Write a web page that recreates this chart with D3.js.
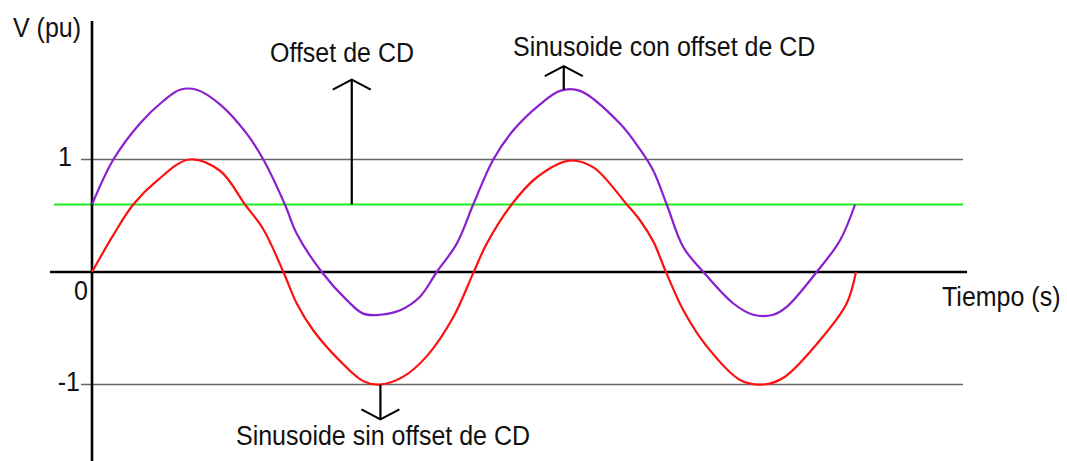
<!DOCTYPE html>
<html>
<head>
<meta charset="utf-8">
<script src="https://cdn.jsdelivr.net/npm/d3@7"></script>
<style>
  body { margin: 0; background: #fff; }
  text { font-family: 'Liberation Sans', Arial, sans-serif; fill: #111; }
</style>
</head>
<body>
<script>
  // tiempo en ms (50 Hz -> 2 ciclos = 40 ms), tension en pu
  const tiempoSin = [0, 1.12, 2.16, 3.39, 5.09, 6.70, 8.01, 8.97, 10.02, 10.72, 11.59, 12.98, 14.20, 15.08,
    16.30, 17.52, 18.92, 19.96, 20.66, 21.97, 23.28, 24.99, 26.25, 28.00, 28.69, 29.39, 30.05, 30.96,
    32.18, 33.93, 35.15, 36.20, 38.29, 39.51, 40.00];
  const voltSin = [0, 0.33, 0.60, 0.81, 1.00, 0.90, 0.60, 0.38, 0.00, -0.28, -0.52, -0.79, -0.97, -1.00,
    -0.93, -0.75, -0.40, -0.01, 0.25, 0.60, 0.84, 0.99, 0.93, 0.60, 0.46, 0.27, 0.00, -0.34,
    -0.66, -0.96, -1.00, -0.94, -0.57, -0.28, 0.00];

  const tiempoCon = [0, 1.12, 2.51, 3.73, 4.61, 5.48, 6.70, 8.10, 8.97, 10.10, 10.72, 12.03, 13.34, 14.20,
    15.08, 16.13, 17.17, 18.05, 19.09, 19.96, 21.01, 22.06, 23.46, 24.50, 25.55, 27.64, 28.69, 29.39,
    30.09, 30.96, 32.01, 33.58, 34.62, 35.67, 36.37, 37.94, 39.16, 39.95];
  const voltCon = [0.60, 1.00, 1.32, 1.52, 1.62, 1.62, 1.49, 1.23, 1.00, 0.60, 0.34, 0.00, -0.25, -0.37,
    -0.38, -0.34, -0.22, 0.00, 0.25, 0.60, 1.00, 1.26, 1.49, 1.61, 1.61, 1.32, 1.09, 0.90,
    0.60, 0.22, 0.00, -0.28, -0.38, -0.38, -0.31, 0.00, 0.28, 0.60];

  const offsetCD = 0.6;
  const yTicks = [1, 0, -1];
  const yTickLabels = ['1', '0', '-1'];

  // flechas de las anotaciones: [tiempo, tension de partida, tension de la punta]
  const flechas = [
    [13.6, 0.6, 1.71],
    [24.7, 1.62, 1.83],
    [15.1, -1.0, -1.31]
  ];

  const WIDTH = 1067;
  const HEIGHT = 461;

  const x = d3.scaleLinear().domain([0, 40]).range([92, 856]);
  const y = d3.scaleLinear().domain([-1, 1]).range([384.5, 159.5]);

  const svg = d3.select('body').append('svg')
    .attr('width', WIDTH)
    .attr('height', HEIGHT);

  // lineas de referencia +1 / -1
  svg.selectAll('line.ref')
    .data([1, -1])
    .enter()
    .append('line')
    .attr('x1', 81).attr('x2', 963)
    .attr('y1', d => y(d)).attr('y2', d => y(d))
    .attr('stroke', '#666').attr('stroke-width', 1.6);

  // offset de CD
  svg.append('line')
    .attr('x1', 54).attr('x2', 963)
    .attr('y1', y(offsetCD)).attr('y2', y(offsetCD))
    .attr('stroke', '#1bee1b').attr('stroke-width', 2.2);

  // ejes
  svg.append('line')
    .attr('x1', 50).attr('x2', 967)
    .attr('y1', y(0)).attr('y2', y(0))
    .attr('stroke', '#000').attr('stroke-width', 2.6);
  svg.append('line')
    .attr('x1', x(0)).attr('x2', x(0))
    .attr('y1', 21).attr('y2', HEIGHT)
    .attr('stroke', '#000').attr('stroke-width', 2.6);

  const linea = d3.line()
    .x(d => x(d[0]))
    .y(d => y(d[1]))
    .curve(d3.curveCatmullRom.alpha(0.5));

  svg.append('path')
    .datum(d3.zip(tiempoCon, voltCon))
    .attr('d', linea)
    .attr('fill', 'none')
    .attr('stroke', '#8a1fd0')
    .attr('stroke-width', 2.2);

  svg.append('path')
    .datum(d3.zip(tiempoSin, voltSin))
    .attr('d', linea)
    .attr('fill', 'none')
    .attr('stroke', '#ff1010')
    .attr('stroke-width', 2.2);

  // flechas (chevron abierto)
  const gf = svg.append('g').attr('stroke', '#000').attr('stroke-width', 2.2).attr('fill', 'none');
  flechas.forEach(([t, v0, v1]) => {
    const xp = x(t), y0 = y(v0), y1 = y(v1);
    const dir = y1 < y0 ? 1 : -1;
    gf.append('line').attr('x1', xp).attr('x2', xp).attr('y1', y0).attr('y2', y1);
    gf.append('polyline')
      .attr('points', `${xp - 19},${y1 + dir * 10} ${xp},${y1} ${xp + 19},${y1 + dir * 10}`);
  });

  // etiquetas eje y
  const tickDx = [-20, -4, -12];
  const tickDy = [6, 28, 6];
  svg.selectAll('text.tick')
    .data(yTicks)
    .enter()
    .append('text')
    .attr('text-anchor', 'end')
    .attr('transform', (d, i) => `translate(${x(0) + tickDx[i]},${y(d) + tickDy[i]}) scale(1,1.12)`)
    .attr('font-size', 25)
    .text((d, i) => yTickLabels[i]);

  const etiquetas = [
    { t: 'V (pu)', x: 13, y: 37 },
    { t: 'Offset de CD', x: 270, y: 62 },
    { t: 'Sinusoide con offset de CD', x: 513, y: 56 },
    { t: 'Sinusoide sin offset de CD', x: 236, y: 445 },
    { t: 'Tiempo (s)', x: 942, y: 306 }
  ];
  svg.selectAll('text.lbl')
    .data(etiquetas)
    .enter()
    .append('text')
    .attr('transform', d => `translate(${d.x},${d.y}) scale(1,1.12)`)
    .attr('font-size', 25)
    .text(d => d.t);
</script>
</body>
</html>
